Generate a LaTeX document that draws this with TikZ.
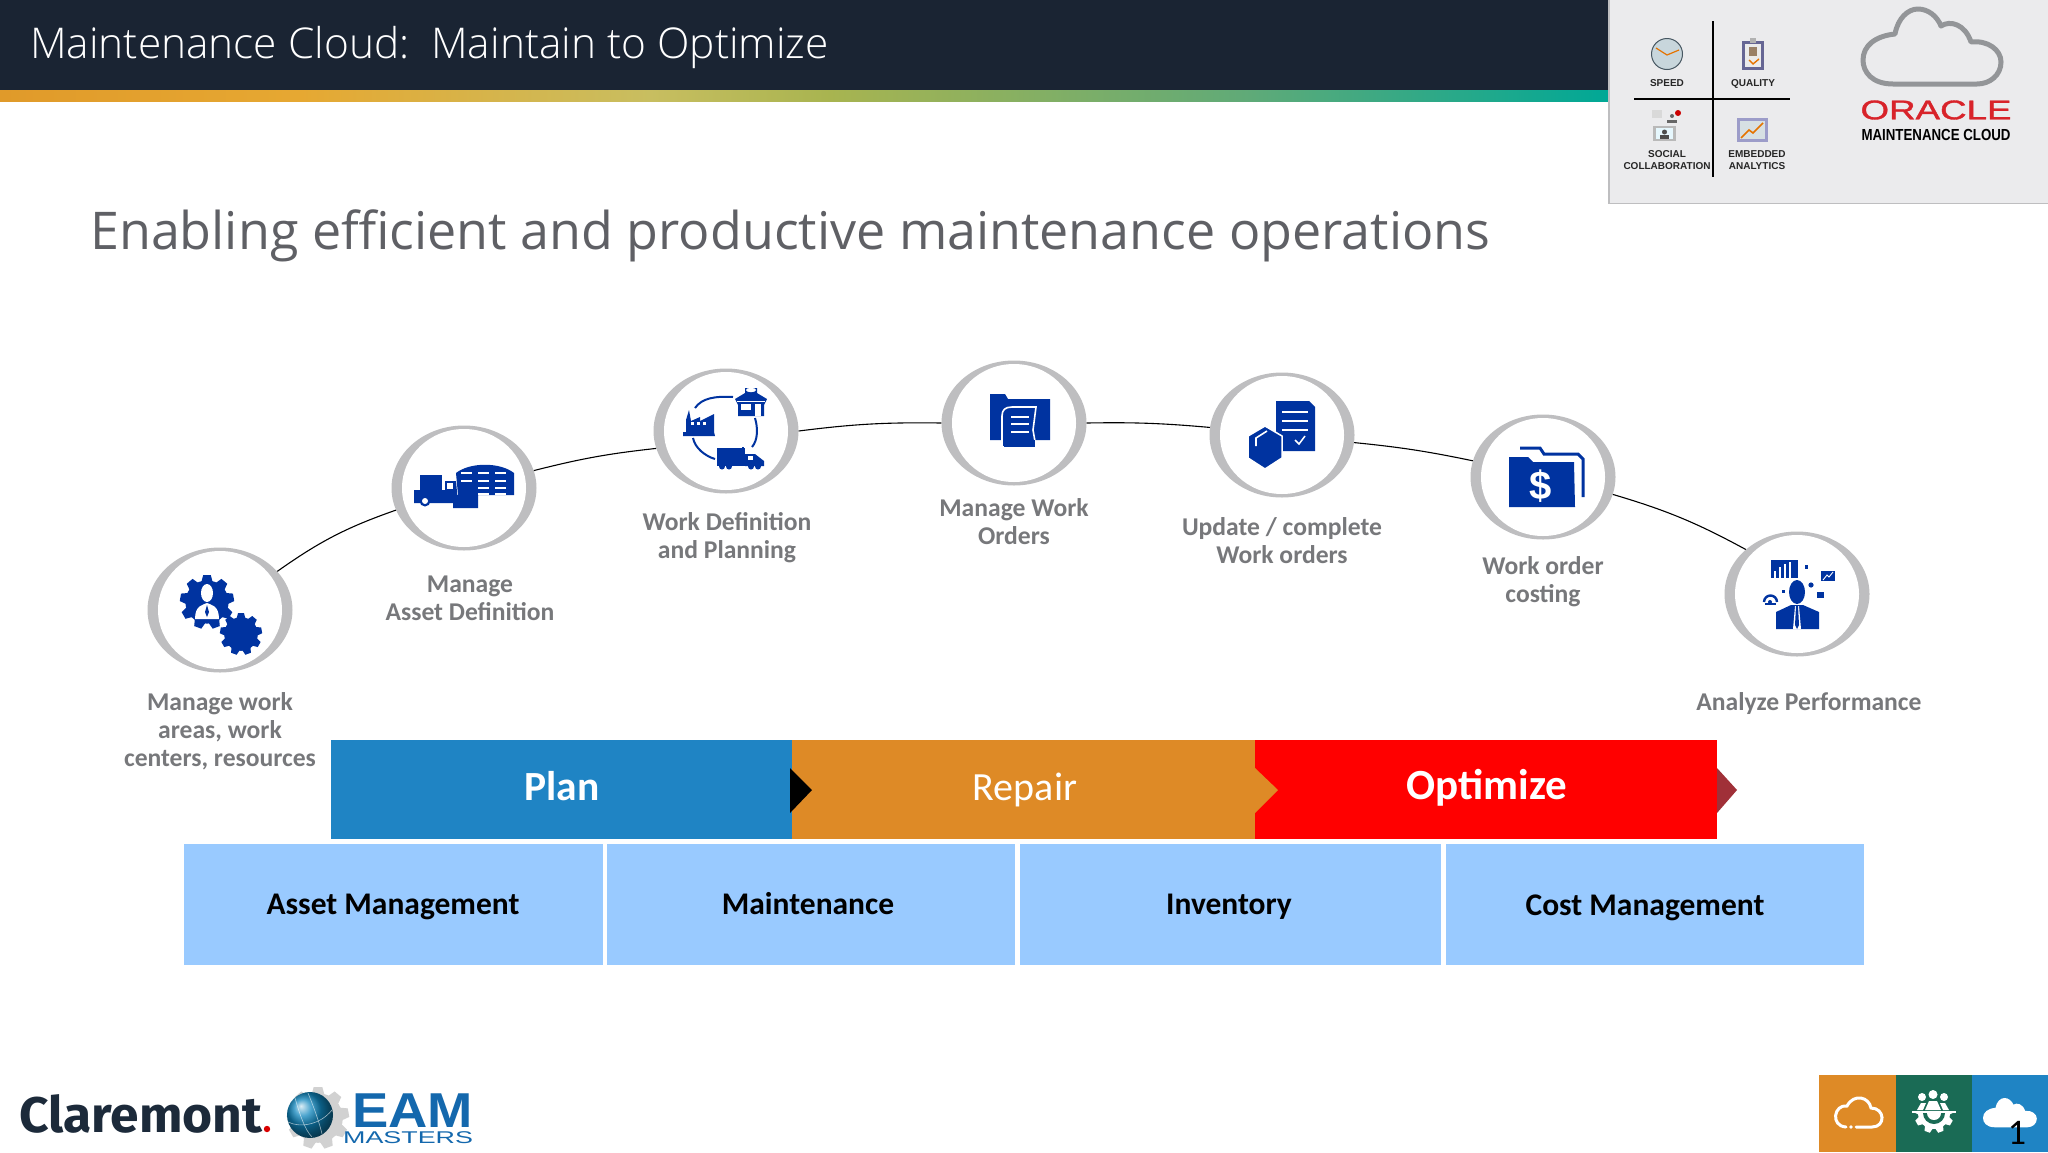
\documentclass[tikz,border=0pt]{standalone}
\usepackage{fontspec}
\usetikzlibrary{shapes.geometric}
\setmainfont{Carlito}
\newfontfamily\ttlf{Open Sans}
\newfontfamily\ttll{Open Sans Light}
\newfontfamily\lblf{Carlito}
\newfontfamily\hvf{Liberation Sans}
\newfontfamily\slabf{Fira Sans}
\definecolor{hdr}{HTML}{1A2433}
\definecolor{ring}{HTML}{BEBEC0}
\definecolor{lblc}{HTML}{77787B}
\definecolor{ico}{HTML}{0033A0}
\definecolor{ttlc}{HTML}{5F6065}
\definecolor{planc}{HTML}{1F84C4}
\definecolor{repc}{HTML}{DE8A26}
\definecolor{optc}{HTML}{FF0000}
\definecolor{tipc}{HTML}{A03038}
\definecolor{boxc}{HTML}{99CAFF}
\definecolor{panc}{HTML}{EBEBED}
\definecolor{clouc}{HTML}{939598}
\definecolor{orared}{HTML}{D8232A}
\definecolor{clarc}{HTML}{1C2A3A}
\definecolor{eamc}{HTML}{1468AD}
\definecolor{greenc}{HTML}{1A6B55}
\definecolor{ga}{HTML}{E09A2A}
\definecolor{gb}{HTML}{E6A832}
\definecolor{gc}{HTML}{C8BE60}
\definecolor{gd}{HTML}{A8B450}
\definecolor{ge}{HTML}{5FAA78}
\definecolor{gf}{HTML}{00A896}
\newcommand{\fsz}[1]{\fontsize{#1}{#1}\selectfont}
\newcommand{\cloudpath}{(1893,84) .. controls (1872,84) and (1863,72) .. (1863,60) .. controls (1863,46) and (1875,36) .. (1895,34) .. controls (1898,18) and (1908,9) .. (1918,9) .. controls (1928,9) and (1937,16) .. (1941,26) .. controls (1950,20) and (1965,24) .. (1971,42) .. controls (1988,40) and (2001,50) .. (2001,62) .. controls (2001,75) and (1990,84) .. (1977,84) -- cycle}
% gear: cx, cy, radius, colour
\newcommand{\gearshape}[4]{%
  \fill[#4] (#1,#2) circle (#3*0.8);
  \foreach \a in {0,40,...,320}{\fill[#4,shift={(#1,#2)},rotate=\a] (-#3*0.14,-#3) -- (#3*0.14,-#3) -- (#3*0.22,-#3*0.7) -- (-#3*0.22,-#3*0.7) -- cycle;}
}
\tikzset{
  x=1pt,y=-1pt,
  stepring/.style={fill=ring,draw=none,ellipse,minimum width=145pt,minimum height=125pt,inner sep=0pt},
  stepin/.style={fill=white,draw=none,ellipse,minimum width=124pt,minimum height=118pt,inner sep=0pt},
  arcline/.style={draw=black,line width=1.1pt},
  lbl/.style={font=\lblf\bfseries\fsz{25.6},text=lblc,align=center,inner sep=0pt},
  barlbl/.style={text=white,inner sep=0pt},
  modtxt/.style={font=\lblf\bfseries\fsz{31.5},text=black,inner sep=0pt},
  pantxt/.style={font=\hvf\bfseries\fsz{10},text=black!85,inner sep=0pt,align=center},
}
\begin{document}
\begin{tikzpicture}
\useasboundingbox (0,0) rectangle (2048,1152);
\fill[white] (0,0) rectangle (2048,1152);
% header
\fill[hdr] (0,0) rectangle (1609,90);
\shade[left color=ga,right color=gb] (0,90) rectangle (300,101);
\shade[left color=gb,right color=gc] (299.5,90) rectangle (650,101);
\shade[left color=gc,right color=gd] (649.5,90) rectangle (830,101);
\shade[left color=gd,right color=ge] (829.5,90) rectangle (1250,101);
\shade[left color=ge,right color=gf] (1249.5,90) rectangle (1609,101);
\node[anchor=west,text=white,font=\ttll\fsz{42.4},inner sep=0pt] (head) at (30,47) {Maintenance Cloud:\ \ Maintain to Optimize};
\node[anchor=west,text=ttlc,font=\ttlf\fsz{52},inner sep=0pt] (ttl) at (90,236) {Enabling efficient and productive maintenance operations};
% panel
\fill[panc] (1609,-1) rectangle (2049,203);
\draw[ring,line width=1.5pt] (1609,0) -- (1609,203.5) -- (2049,203.5);
\draw[black,line width=2.4pt] (1713,21) -- (1713,177);
\draw[black,line width=2.4pt] (1634,99) -- (1790,99);
% clock
\fill[cyan!25!gray!40,draw=black!70!cyan,line width=1pt] (1667,54) circle (15.5);
\draw[orange!90!black,line width=1.2pt] (1656,48) -- (1667,55) -- (1679,50);
% clipboard
\fill[black!70!blue!60] (1742,41) rectangle (1764,70);
\fill[white!92!black] (1745,44) rectangle (1761,67);
\fill[gray!60] (1750,38) rectangle (1756,43);
\fill[gray!60!brown] (1749,47) rectangle (1757,56);
\draw[orange!90!black,line width=1.4pt] (1749,60) -- (1753,64) -- (1759,59);
% social
\fill[black!15] (1652,110) rectangle (1662,118);
\fill[black!60] (1672,116) circle (2);\fill[black!60] (1667,123) rectangle (1677,120);
\fill[red!80!black] (1678,113) circle (3);
\fill[gray!55] (1653,126) rectangle (1676,141);
\fill[cyan!10] (1656,128) rectangle (1673,139);
\fill[black!70] (1664.5,132) circle (2.5);\fill[black!70] (1660,139) rectangle (1669,135);
% chart
\fill[gray!70!blue!60] (1737,118) rectangle (1768,142);
\fill[cyan!20!gray!30] (1740,121) rectangle (1765,139);
\draw[orange!90!black,line width=1.6pt] (1741,138) -- (1749,130) -- (1753,133) -- (1763,123);
\node[pantxt] (p1) at (1667,83.5) {SPEED};
\node[pantxt] (p2) at (1753,83.5) {QUALITY};
\node[pantxt] (p3) at (1667,154) {SOCIAL};
\node[pantxt] (p3b) at (1667,166) {COLLABORATION};
\node[pantxt] (p4) at (1757,154) {EMBEDDED};
\node[pantxt] (p4b) at (1757,166) {ANALYTICS};
\draw[clouc,line width=5pt,line join=round] \cloudpath;
\node[font=\hvf\fsz{27},text=orared,inner sep=0pt] (ora) at (1936,110) {\scalebox{1.36}[1]{\addfontfeature{FakeBold=1.2}ORACLE}};
\node[font=\hvf\bfseries\fsz{16},text=black,inner sep=0pt] (mc) at (1936,135) {\scalebox{.83}[1]{MAINTENANCE CLOUD}};
% step circles
\node[stepring] (c1) at (220,610) {};
\node[stepring] (c2) at (464,488) {};
\node[stepring] (c3) at (726,431) {};
\node[stepring] (c4) at (1014,423) {};
\node[stepring] (c5) at (1282,435) {};
\node[stepring] (c6) at (1543,477) {};
\node[stepring] (c7) at (1797,594) {};
\node[stepin] (i1) at (c1) {};
\node[stepin] (i2) at (c2) {};
\node[stepin] (i3) at (c3) {};
\node[stepin] (i4) at (c4) {};
\node[stepin] (i5) at (c5) {};
\node[stepin] (i6) at (c6) {};
\node[stepin] (i7) at (c7) {};
\draw[arcline] (c1.34) to[bend left=8] (c2.198);
\draw[arcline] (c2.14) to[bend left=4] (c3.194);
\draw[arcline] (c3.0) to[bend left=4] (c4.180);
\draw[arcline] (c4.0) to[bend left=3] (c5.174);
\draw[arcline] (c5.-6) to[bend left=3] (c6.167);
\draw[arcline] (c6.-14) to[bend left=6] (c7.139);
% icon 1
\gearshape{207}{602}{27}{ico}
\gearshape{241}{634}{21}{ico}
\fill[white] (207,593) ellipse (6 and 9);
\fill[white] (195,619) .. controls (195,605) and (203,605) .. (207,603) .. controls (211,605) and (219,605) .. (219,619) -- cycle;
\fill[ico] (207,605) -- (205,612) -- (207,617) -- (209,612) -- cycle;
% icon 2
\fill[ico] (420,475) rectangle (442,490);
\fill[ico] (414,490) -- (445,490) -- (445,481) -- (456,481) -- (458,503) -- (414,503) -- cycle;
\fill[white] (447,483) rectangle (453,489);
\fill[ico] (425,501) circle (5.5); \fill[white] (425,501) circle (3);
\fill[ico] (456,473) .. controls (470,462) and (500,462) .. (514,473) -- (514,495) -- (478,495) -- (478,508) -- (453,508) -- (453,495) -- (458,495) -- cycle;
\foreach \cx/\cy in {466/473,483/473,500/473,466/481,483/481,483/488,500/488,483/494,500/481,500/494}{\fill[white] (\cx-5.5,\cy-1) rectangle (\cx+5.5,\cy+1.4);}
% icon 3
\draw[ico,line width=2pt] (695,408) .. controls (702,398) and (715,396) .. (733,397);
\draw[ico,line width=2pt] (755,418) .. controls (758,428) and (758,440) .. (752,447);
\draw[ico,line width=2pt] (693,438) .. controls (695,448) and (705,456) .. (715,459);
\fill[ico] (683,436) -- (683,432) -- (686,432) -- (686,420) -- (689,410) -- (691,421) -- (700,417) -- (700,421) -- (714,414) -- (714,432) -- (715,436) -- cycle;
\foreach \a in {691,697,703}{\fill[white] (\a,422) rectangle (\a+3,425);}
\fill[ico] (735,399) -- (745,393) -- (745,388) -- (757,388) -- (757,393) -- (767,399) -- (764,405) -- (764,416) -- (738,416) -- (738,405) -- cycle;
\fill[white] (751,390) ellipse (5 and 2.2);
\fill[white] (741,404) rectangle (751,410);
\fill[white] (755,404) rectangle (761,416);
\fill[white] (737,401) rectangle (765,402);
\fill[ico] (717,448) rectangle (745,466);
\fill[ico] (745,454) -- (755,454) -- (764,461) -- (764,466) -- (745,466) -- cycle;
\fill[ico] (742,447) rectangle (744,454);
\fill[white] (748,456) rectangle (753,460);
\foreach \a in {722,729,751,758}{\fill[ico] (\a,466.5) circle (3);}
% icon 4
\fill[ico] (990,394) -- (1005,394) -- (1008,399) -- (1050,399) -- (1050,440) -- (990,440) -- cycle;
\fill[ico,draw=white,line width=1.6pt] (1036,407) -- (1012,407) .. controls (1005,407) and (1002,410) .. (1002,416) -- (1002,447) -- (1036,447) -- (1033,430) -- cycle;
\fill[ico] (1003.5,440) rectangle (1035,447);
\foreach \a in {417,424,432}{\draw[white,line width=1.5pt] (1011,\a) -- (1029,\a);}
% icon 5
\begin{scope}[shift={(-2,0)}]
\fill[ico] (1278,401) -- (1311,401) -- (1317,407) -- (1317,451) -- (1278,451) -- cycle;
\foreach \a in {412,421,430}{\draw[white,line width=1.6pt] (1284,\a) -- (1310,\a);}
\draw[white,line width=1.5pt] (1297,440) -- (1301,444) -- (1307,436);
\fill[ico,draw=white,line width=1.5pt] (1250,436) -- (1267,426) -- (1284,436) -- (1284,458) -- (1267,469) -- (1250,458) -- cycle;
\draw[white,line width=1.6pt] (1258,446) -- (1258,438) -- (1269,431);
\end{scope}
% icon 6
\begin{scope}[shift={(-2,0)}]
\draw[ico,line width=3pt] (1522,448) -- (1542,448) -- (1546,454) -- (1580,454) -- (1585,459) -- (1585,497);
\fill[ico] (1511,457) -- (1530,457) -- (1535,462) -- (1576,462) -- (1577,507) -- (1511,507) -- cycle;
\node[font=\hvf\bfseries\fsz{40},text=white,inner sep=0pt] (dol) at (1543,486) {\$};
\end{scope}
% icon 7
\begin{scope}[shift={(-3,0)}]
\fill[ico] (1800,592) ellipse (8 and 12);
\fill[ico] (1779,629) -- (1779,612) -- (1794,605) -- (1806,605) -- (1822,612) -- (1822,629) -- cycle;
\fill[white] (1798,606) -- (1796,629) -- (1804,629) -- (1802,606) -- cycle;
\fill[ico] (1799,606) -- (1798,625) -- (1800,629) -- (1802,625) -- (1801,606) -- cycle;
\fill[ico] (1774,560) rectangle (1801,578);
\foreach \a/\b in {1777/571,1782/567,1787/564,1792/562}{\fill[white] (\a,\b) rectangle (\a+1.6,578);}
\fill[ico] (1808,565) rectangle (1811,569);
\fill[ico] (1824,571) rectangle (1838,581);
\draw[white,line width=.9pt] (1826,580) -- (1830,575) -- (1832,577) -- (1836,572);
\fill[ico] (1814,585) circle (2.6);
\fill[ico] (1820,592) rectangle (1827,598);
\fill[ico] (1785,590) rectangle (1788,593);
\draw[ico,line width=2.4pt] (1767,602) arc[start angle=180,end angle=360,radius=6.5];
\draw[ico,line width=2.4pt] (1768,604) -- (1779,604);
\fill[ico] (1773,602) circle (2);
\end{scope}
% labels
\node[lbl] (l1) at (220,731) {Manage work\\[2.4pt]areas, work\\[2.4pt]centers, resources};
\node[lbl] (l2) at (470,598.5) {Manage\\[2.4pt]Asset Definition};
\node[lbl] (l3) at (727,538) {Work Definition\\[2.4pt]and Planning};
\node[lbl] (l4) at (1014,522) {Manage Work\\[2.4pt]Orders};
\node[lbl] (l5) at (1282,541) {Update / complete\\[2.4pt]Work orders};
\node[lbl] (l6) at (1543,582) {Work order\\[2.4pt]costing};
\node[lbl] (l7) at (1809,704) {Analyze Performance};
% bars
\fill[planc] (331,740) rectangle (792,839);
\fill[repc] (792,740) rectangle (1255,839);
\fill[optc] (1255,740) rectangle (1717,839);
\fill[black] (790,768) -- (812,790) -- (790,813) -- cycle;
\fill[repc] (1255,768) -- (1278,790) -- (1255,813) -- cycle;
\fill[tipc] (1717,768) -- (1737,790) -- (1717,813) -- cycle;
\node[barlbl,font=\lblf\bfseries\fsz{41.5}] (plan) at (562,786) {Plan};
\node[barlbl,font=\lblf\fsz{40}] (rep) at (1025,790) {Repair};
\node[barlbl,font=\lblf\bfseries\fsz{43}] (opt) at (1487,788) {Optimize};
% module boxes
\fill[boxc] (184,844) rectangle (603,965);
\fill[boxc] (607,844) rectangle (1015,965);
\fill[boxc] (1020,844) rectangle (1441,965);
\fill[boxc] (1446,844) rectangle (1864,965);
\node[modtxt] (m1) at (393,907) {Asset Management};
\node[modtxt] (m2) at (808,904) {Maintenance};
\node[modtxt] (m3) at (1229,907) {Inventory};
\node[modtxt] (m4) at (1645,908) {Cost Management};
% Claremont
\node[anchor=west,font=\slabf\bfseries\fsz{50},text=clarc,inner sep=0pt] (clar) at (19,1114) {\scalebox{1.03}[1]{Claremont}};
\fill[red!85!black] (267,1129) circle (3.2);
% EAM logo
\gearshape{318}{1118}{31}{black!18}
\shade[ball color=eamc!80!cyan] (310,1115) circle (23);
\draw[white,line width=.6pt,opacity=.6] (288,1122) .. controls (300,1128) and (320,1125) .. (332,1110) (295,1098) .. controls (300,1115) and (305,1130) .. (312,1137) (308,1093) .. controls (315,1110) and (320,1125) .. (322,1134);
\node[anchor=south west,font=\hvf\bfseries\fsz{49},text=eamc,inner sep=0pt,text height=35pt,text depth=0pt] (eam) at (352,1128) {\scalebox{1.11}[1]{EAM}};
\node[anchor=south west,font=\hvf\fsz{17},text=eamc,inner sep=0pt,text height=12pt,text depth=0pt] (mas) at (343,1144) {\scalebox{1.58}[1]{MASTERS}};
% footer squares
\fill[repc] (1819,1075) rectangle (1896,1152);
\fill[greenc] (1896,1075) rectangle (1972,1152);
\fill[planc] (1972,1075) rectangle (2048,1152);
\begin{scope}[shift={(1983-1863*.39,1098-9*.39)},scale=.39]
\fill[white] \cloudpath;
\end{scope}
\draw[white,line width=3pt,line cap=round] (1856,1127) -- (1872,1127) .. controls (1886,1127) and (1885,1108) .. (1871,1108) .. controls (1869,1097) and (1854,1093) .. (1847,1106) .. controls (1834,1104) and (1830,1126) .. (1846,1127);
\fill[white] (1851,1127) circle (1.8);
\fill[white] (1922,1097) circle (4);
\fill[white] (1933,1094.5) circle (4.5);
\fill[white] (1944,1097) circle (4);
\fill[white] (1917,1110) -- (1921,1103) -- (1926,1103) -- (1923,1110) -- cycle;
\fill[white] (1949,1110) -- (1945,1103) -- (1940,1103) -- (1943,1110) -- cycle;
\fill[white] (1925,1110) -- (1929,1101) -- (1937,1101) -- (1941,1110) -- cycle;
\begin{scope}
\clip (1905,1113) rectangle (1965,1145);
\gearshape{1934}{1113}{20}{white}
\fill[greenc] (1934,1113) circle (11);
\fill[white] (1934,1113) circle (7);
\end{scope}
\draw[white,line width=2pt] (1912,1112) -- (1956,1112);
\node[font=\lblf\fsz{36},text=black,inner sep=0pt] (pg) at (2017,1133) {1};
\end{tikzpicture}
\end{document}
